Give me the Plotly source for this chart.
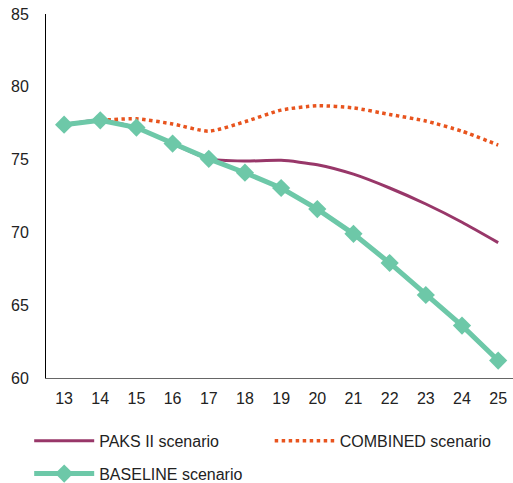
import plotly.graph_objects as go

years = ["13", "14", "15", "16", "17", "18", "19", "20", "21", "22", "23", "24", "25"]
baseline = [77.4, 77.7, 77.2, 76.1, 75.05, 74.1, 73.05, 71.6, 69.9, 67.9, 65.7, 63.6, 61.2]
paks = [77.4, 77.7, 77.2, 76.1, 75.05, 74.9, 74.95, 74.65, 74.0, 73.05, 71.95, 70.7, 69.3]
combined = [None, 77.7, 77.8, 77.45, 76.95, 77.6, 78.4, 78.7, 78.55, 78.1, 77.65, 76.95, 76.0]

fig = go.Figure()
fig.add_trace(go.Scatter(x=years, y=paks, name="PAKS II scenario", mode="lines",
                         legend="legend", legendgroup="a",
                         line=dict(color="#983769", width=3, shape="spline", smoothing=0.6)))
fig.add_trace(go.Scatter(x=years, y=combined, name="COMBINED scenario", mode="lines",
                         legend="legend2", legendgroup="b",
                         line=dict(color="#E8541E", width=3.5, dash="dot", shape="spline", smoothing=0.6)))
fig.add_trace(go.Scatter(x=years, y=baseline, name="BASELINE scenario", mode="lines+markers",
                         legend="legend", legendgroup="c",
                         line=dict(color="#6DC8A8", width=5),
                         marker=dict(symbol="diamond", size=14, color="#6DC8A8")))

leg_common = dict(orientation="v", xanchor="left", yanchor="top", font=dict(size=16),
                  itemwidth=60, tracegroupgap=9, bgcolor="rgba(0,0,0,0)")
fig.update_layout(
    width=513, height=483,
    margin=dict(l=46, r=0, t=14, b=105, autoexpand=False),
    plot_bgcolor="white", paper_bgcolor="white",
    font=dict(family="Liberation Sans, Arial, sans-serif", size=16, color="#222"),
    showlegend=True,
    legend=dict(x=-0.036, y=-0.126, **leg_common),
    legend2=dict(x=0.479, y=-0.126, **leg_common),
    xaxis=dict(type="category", range=[-0.5, 12.41], showline=True, linecolor="#666",
               linewidth=1, showgrid=False, ticks="", tickfont=dict(size=16),
               automargin=False, ticklabelstandoff=6),
    yaxis=dict(range=[60, 85], dtick=5, showline=True, linecolor="#000", linewidth=1,
               showgrid=False, ticks="", zeroline=False, tickfont=dict(size=16),
               automargin=False, ticklabeloverflow="allow", ticklabelstandoff=13),
)
fig.write_html("out.html", config={"displayModeBar": False},
               post_script="document.body.style.margin='0';")
